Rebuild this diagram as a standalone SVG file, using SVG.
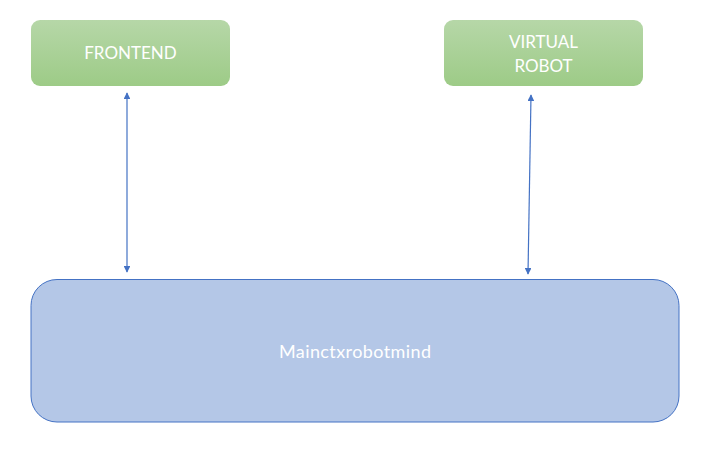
<svg xmlns="http://www.w3.org/2000/svg" width="718" height="458" viewBox="0 0 718 458">
<defs>
<linearGradient id="g" x1="0" y1="0" x2="0" y2="1">
<stop offset="0" stop-color="#b6d7a8"/>
<stop offset="1" stop-color="#9dcb87"/>
</linearGradient>
<marker id="ah" viewBox="0 0 10 10" refX="9" refY="5" markerWidth="5.5" markerHeight="5.5" orient="auto-start-reverse">
<path d="M0,0 L10,5 L0,10 z" fill="#4472c4"/>
</marker>
<style>
.lbl{font-family:Lato,"Liberation Sans",sans-serif;font-size:17px;fill:#ffffff;text-anchor:middle}
.green{fill:url(#g)}
.conn{stroke:#4472c4;stroke-width:1.2;fill:none;marker-start:url(#ah);marker-end:url(#ah)}
</style>
</defs>
<rect width="718" height="458" fill="#ffffff"/>
<g id="frontend">
<rect class="green" x="31" y="20" width="199" height="66" rx="9"/>
<text class="lbl" x="130.5" y="59">FRONTEND</text>
</g>
<g id="virtual-robot">
<rect class="green" x="444" y="20" width="199" height="66" rx="9"/>
<text class="lbl" x="543.5" y="48">VIRTUAL</text>
<text class="lbl" x="543.5" y="72">ROBOT</text>
</g>
<g id="mainctx">
<rect x="31" y="279.5" width="648" height="142.5" rx="26" fill="#b4c7e7" stroke="#4472c4" stroke-width="1"/>
<text class="lbl" x="355" y="358" style="font-size:18px" textLength="152" lengthAdjust="spacing">Mainctxrobotmind</text>
</g>
<g id="connectors">
<line class="conn" x1="127" y1="93" x2="127" y2="272"/>
<line class="conn" x1="531" y1="95" x2="528" y2="274"/>
</g>
</svg>
